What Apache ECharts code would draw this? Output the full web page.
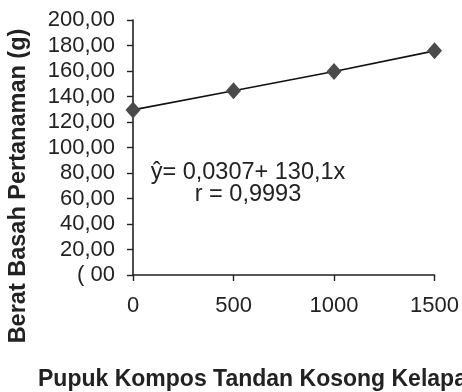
<!DOCTYPE html>
<html>
<head>
<meta charset="utf-8">
<script src="https://cdn.jsdelivr.net/npm/echarts@6/dist/echarts.min.js"></script>
<style>
html,body{margin:0;padding:0;background:#fff;}
#chart{width:462px;height:392px;}
</style>
</head>
<body>
<div id="chart"></div>
<script>
var doses = [0, 500, 1000, 1500];
var weights = [129.5, 144.5, 159.6, 175.8];
var yTickLabels = ['( 00', '20,00', '40,00', '60,00', '80,00', '100,00', '120,00', '140,00', '160,00', '180,00', '200,00'];
var xTickLabels = ['0', '500', '1000', '1500'];
var yTitle = 'Berat Basah Pertanaman (g)';
var xTitle = 'Pupuk Kompos Tandan Kosong Kelapa';
var equationLines = ['\u0177= 0,0307+ 130,1x', 'r = 0,9993'];

var FONT = 'Liberation Sans';
var chart = echarts.init(document.getElementById('chart'), null, {renderer: 'canvas'});
chart.setOption({
  animation: false,
  backgroundColor: '#ffffff',
  grid: {left: 133, right: 24, top: 20, bottom: 117, containLabel: false},
  xAxis: {
    type: 'value', min: 0, max: 1500, interval: 500,
    axisLine: {show: true, onZero: false, lineStyle: {color: '#222', width: 1.6}},
    axisTick: {show: true, inside: false, length: 6, lineStyle: {color: '#222', width: 1.4}},
    splitLine: {show: false},
    axisLabel: {
      margin: 20, color: '#222', fontFamily: FONT, fontSize: 22,
      formatter: function (v) { var i = doses.indexOf(v); return i >= 0 ? xTickLabels[i] : ''; }
    }
  },
  yAxis: {
    type: 'value', min: 0, max: 200, interval: 20,
    axisLine: {show: true, lineStyle: {color: '#222', width: 1.6}},
    axisTick: {show: true, inside: false, length: 6, lineStyle: {color: '#222', width: 1.4}},
    splitLine: {show: false},
    axisLabel: {
      margin: 18, color: '#222', fontFamily: FONT, fontSize: 22,
      formatter: function (v) { return yTickLabels[Math.round(v / 20)]; }
    }
  },
  series: [{
    type: 'line',
    data: doses.map(function (d, i) { return [d, weights[i]]; }),
    symbol: 'diamond', symbolSize: [15, 17],
    itemStyle: {color: '#4a4a4a'},
    lineStyle: {color: '#111', width: 1.6},
    z: 3
  }],
  graphic: [
    {
      type: 'text', x: 19, y: 186, rotation: Math.PI / 2,
      style: {text: yTitle, align: 'center', verticalAlign: 'middle',
        font: 'bold 23.5px "Liberation Sans"', fill: '#222'}
    },
    {
      type: 'text', x: 38, y: 380,
      style: {text: xTitle, align: 'left', verticalAlign: 'middle',
        font: 'bold 23px "Liberation Sans"', fill: '#222'}
    },
    {
      type: 'text', x: 248, y: 184,
      style: {text: equationLines.join('\n'), align: 'center', verticalAlign: 'middle',
        font: '23.5px "Liberation Sans"', lineHeight: 22, fill: '#222'}
    }
  ]
});
</script>
</body>
</html>
